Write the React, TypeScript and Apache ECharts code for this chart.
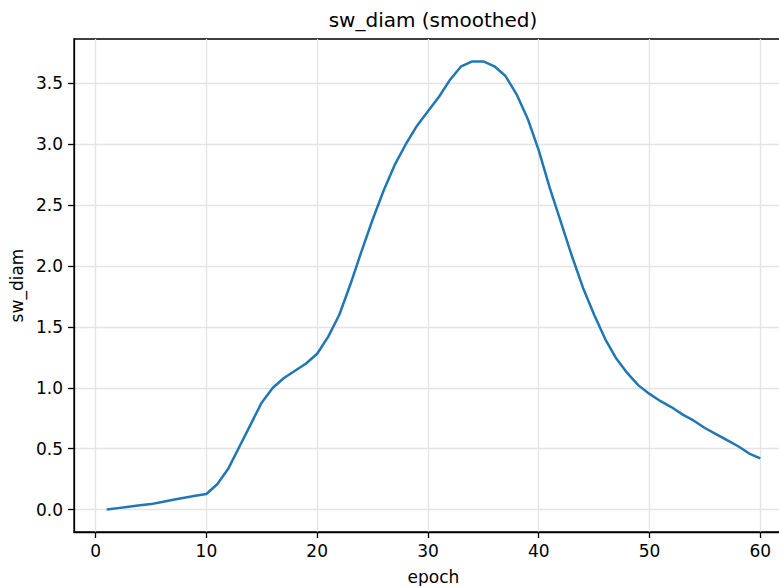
import React, { useEffect, useRef } from "react";
import * as echarts from "echarts";

const epochs: number[] = Array.from({ length: 60 }, (_, i) => i + 1);
const swDiam: number[] = [
  0.0, 0.012, 0.024, 0.035, 0.045, 0.062, 0.08, 0.097, 0.113, 0.128,
  0.21, 0.34, 0.52, 0.7, 0.88, 1.0, 1.08, 1.14, 1.2, 1.28,
  1.42, 1.6, 1.85, 2.12, 2.38, 2.62, 2.83, 3.0, 3.15, 3.27,
  3.39, 3.53, 3.64, 3.68, 3.68, 3.64, 3.56, 3.41, 3.21, 2.95,
  2.64, 2.36, 2.08, 1.82, 1.6, 1.4, 1.24, 1.12, 1.02, 0.95,
  0.89, 0.84, 0.78, 0.73, 0.67, 0.62, 0.57, 0.52, 0.46, 0.42,
];
const xTicks: number[] = [0, 10, 20, 30, 40, 50, 60];
const yTicks: number[] = [0, 0.5, 1, 1.5, 2, 2.5, 3, 3.5];
const titleText = "sw_diam (smoothed)";
const xName = "epoch";
const yName = "sw_diam";

const FONT = "DejaVu Sans";

export default function App() {
  const ref = useRef<HTMLDivElement>(null);
  useEffect(() => {
    if (!ref.current) return;
    const chart = echarts.init(ref.current, null, { renderer: "svg" });
    const data = epochs.map((e, i) => [e, swDiam[i]]);
    chart.setOption({
      animation: false,
      backgroundColor: "#ffffff",
      textStyle: { fontFamily: FONT },
      graphic: [
        {
          type: "text",
          x: 433,
          y: 20,
          style: {
            text: titleText,
            font: `20px '${FONT}'`,
            fill: "#000",
            align: "center",
            verticalAlign: "middle",
          },
        },
      ],
      grid: {
        left: 74,
        top: 39,
        width: 719,
        height: 493,
        outerBoundsMode: "none",
        containLabel: false,
        show: true,
        borderColor: "#000",
        borderWidth: 1.3,
        backgroundColor: "transparent",
      },
      xAxis: {
        type: "value",
        min: -1.95,
        max: 62.95,
        splitNumber: 5,
        name: xName,
        nameLocation: "middle",
        nameGap: 36,
        nameTextStyle: { fontFamily: FONT, fontSize: 17, color: "#000" },
        axisLine: { show: true, onZero: false, lineStyle: { color: "#000", width: 1.3 } },
        axisTick: {
          show: true,
          length: 6,
          customValues: xTicks,
          lineStyle: { color: "#000", width: 1.3 },
        },
        axisLabel: {
          customValues: xTicks,
          fontFamily: FONT,
          fontSize: 17,
          color: "#000",
          margin: 10,
        },
        splitLine: { show: true, lineStyle: { color: "#e4e4e4", width: 1.3 } },
      },
      yAxis: {
        type: "value",
        min: -0.184,
        max: 3.864,
        splitNumber: 8,
        name: yName,
        nameLocation: "middle",
        nameGap: 48,
        nameRotate: 90,
        nameTextStyle: { fontFamily: FONT, fontSize: 17, color: "#000" },
        axisLine: { show: true, onZero: false, lineStyle: { color: "#000", width: 1.3 } },
        axisTick: {
          show: true,
          length: 6,
          customValues: yTicks,
          lineStyle: { color: "#000", width: 1.3 },
        },
        axisLabel: {
          customValues: yTicks,
          fontFamily: FONT,
          fontSize: 17,
          color: "#000",
          margin: 11,
          formatter: (v: number) => v.toFixed(1),
        },
        splitLine: { show: true, lineStyle: { color: "#e4e4e4", width: 1.3 } },
      },
      series: [
        {
          type: "line",
          data,
          showSymbol: false,
          symbol: "none",
          lineStyle: { color: "#1f77b4", width: 2.5 },
          itemStyle: { color: "#1f77b4" },
        },
      ],
    });
    return () => chart.dispose();
  }, []);
  return (
    <div
      ref={ref}
      style={{ position: "fixed", left: 0, top: 0, width: 779, height: 586 }}
    />
  );
}
